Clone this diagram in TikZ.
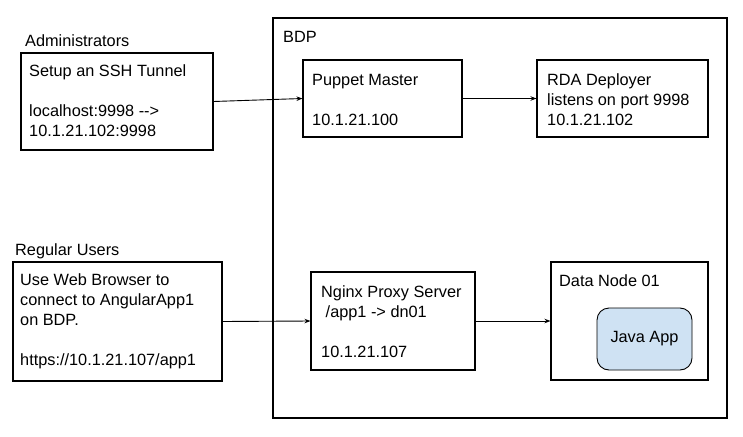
\documentclass[tikz,border=0pt]{standalone}
\usepackage{fontspec}
\setmainfont{Liberation Sans}
\usetikzlibrary{arrows.meta}
\definecolor{javafill}{HTML}{CFE2F3}
\begin{document}
\begin{tikzpicture}[x=1pt,y=-1pt,
  box/.style={draw=black, line width=1.1pt, inner sep=0pt},
  lbl/.style={inner sep=0pt, anchor=base west, align=left, font=\fontsize{16.3}{20}\selectfont},
  conn/.style={line width=0.9pt, -{Stealth[length=6pt,width=4.5pt]}}]
\useasboundingbox[fill=white] (0,0) rectangle (743,436);

% boxes
\node[box, minimum width=454pt, minimum height=400pt] (bdp) at (500,218) {};
\node[box, minimum width=192pt, minimum height=97pt] (admin) at (117,101.5) {};
\node[box, minimum width=159pt, minimum height=77pt] (puppet) at (382.5,98.5) {};
\node[box, minimum width=171pt, minimum height=77pt] (rda) at (622.5,98.5) {};
\node[box, minimum width=209pt, minimum height=119pt] (users) at (117.5,321.5) {};
\node[box, minimum width=164pt, minimum height=98pt] (nginx) at (393,321) {};
\node[box, minimum width=157pt, minimum height=118pt] (dn) at (629.5,321) {};
\node[draw=black, line width=0.9pt, fill=javafill, rounded corners=12pt,
      minimum width=95pt, minimum height=62pt, inner sep=0pt,
      font=\fontsize{16.3}{20}\selectfont] (java) at (644.5,339) {Java App};

% labels (anchor = baseline of last line)
\node[lbl] (tadmin) at (25,47) {Administrators};
\node[lbl] (tsetup) at (29,136) {Setup an SSH Tunnel\\[20pt]localhost:9998 -{}-{}>\\10.1.21.102:9998};
\node[lbl] (tbdp) at (283,42) {BDP};
\node[lbl] (tpuppet) at (312,125) {Puppet Master\\[20pt]10.1.21.100};
\node[lbl] (trda) at (547,125) {RDA Deployer\\listens on port 9998\\10.1.21.102};
\node[lbl] (tusers) at (15,255) {Regular Users};
\node[lbl] (tbrowser) at (20,365) {Use Web Browser to\\connect to AngularApp1\\on BDP.\\[20pt]https://10.1.21.107/app1};
\node[lbl] (tnginx) at (321,357) {Nginx Proxy Server\\\ /app1 -> dn01\\[20pt]10.1.21.107};
\node[lbl] (tdn) at (559,286) {Data Node 01};

% connectors
\draw[conn] (admin.east) -- (puppet.west);
\draw[conn] (puppet.east) -- (rda.west);
\draw[conn] (users.east) -- (nginx.west);
\draw[conn] (nginx.east) -- (dn.west);
\end{tikzpicture}
\end{document}
